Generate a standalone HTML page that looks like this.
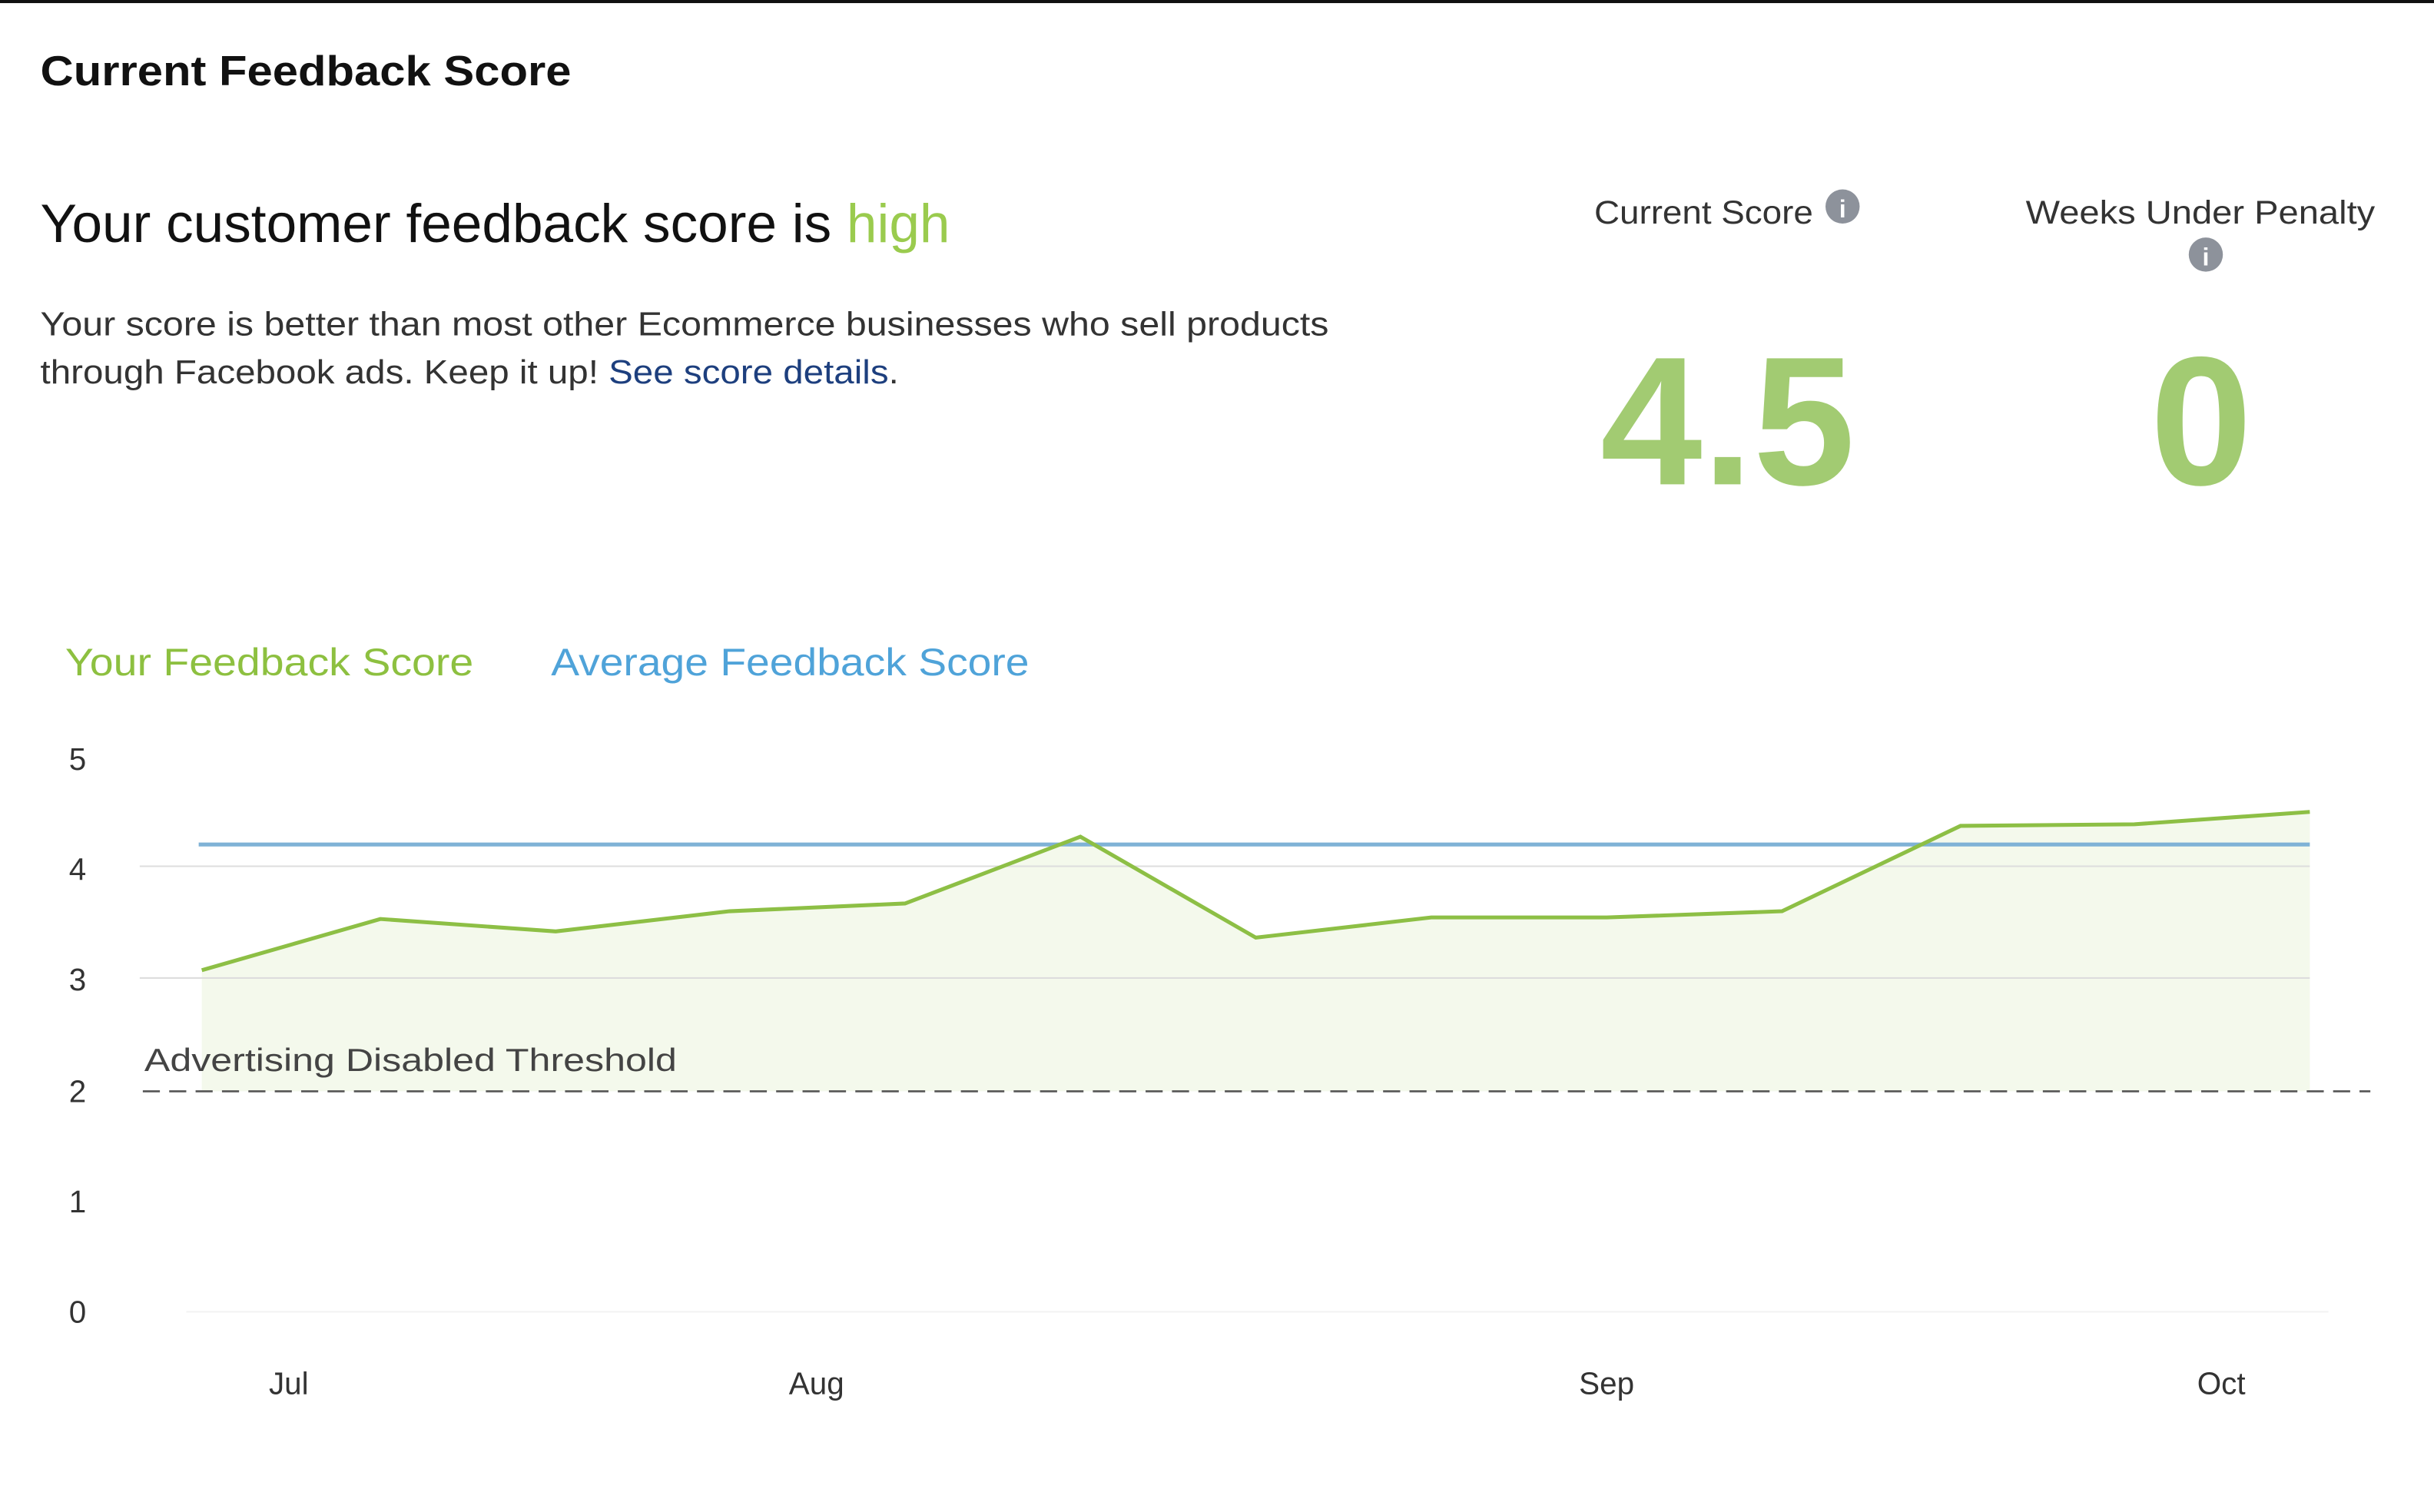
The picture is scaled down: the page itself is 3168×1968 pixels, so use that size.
<!DOCTYPE html>
<html><head><meta charset="utf-8"><style>
html,body{margin:0;padding:0;background:#fff;width:3168px;height:1968px;overflow:hidden}
svg{display:block}
text{font-family:"Liberation Sans",sans-serif}
</style></head><body>
<svg width="3168" height="1968" viewBox="0 0 1568 974" preserveAspectRatio="none">
<rect x="0" y="0" width="1568" height="2" fill="#111"/>
<text x="26" y="55" font-size="27" font-weight="bold" fill="#111" textLength="342" lengthAdjust="spacingAndGlyphs">Current Feedback Score</text>
<text x="26" y="156" font-size="35" fill="#111" textLength="586" lengthAdjust="spacingAndGlyphs">Your customer feedback score is <tspan fill="#9acb4e">high</tspan></text>
<text x="26" y="216" font-size="21.5" fill="#333" textLength="830" lengthAdjust="spacingAndGlyphs">Your score is better than most other Ecommerce businesses who sell products</text>
<text x="26" y="247" font-size="21.5" fill="#333" textLength="553" lengthAdjust="spacingAndGlyphs">through Facebook ads. Keep it up! <tspan fill="#1d3f7e">See score details</tspan>.</text>
<text x="1027" y="144" font-size="21" fill="#333" textLength="141" lengthAdjust="spacingAndGlyphs">Current Score</text>
<circle cx="1187" cy="133" r="11" fill="#8d929b"/><text x="1187" y="140" font-size="16" font-weight="bold" fill="#fff" text-anchor="middle">i</text>
<text x="1305" y="144" font-size="21" fill="#333" textLength="225" lengthAdjust="spacingAndGlyphs">Weeks Under Penalty</text>
<circle cx="1421" cy="164" r="11" fill="#8d929b"/><text x="1421" y="171" font-size="16" font-weight="bold" fill="#fff" text-anchor="middle">i</text>
<text x="1113" y="312" font-size="118" font-weight="bold" fill="#a2cb72" text-anchor="middle">4.5</text>
<text x="1418" y="312" font-size="118" font-weight="bold" fill="#a2cb72" text-anchor="middle">0</text>
<text x="42" y="435" font-size="25" fill="#8dc040" textLength="263" lengthAdjust="spacingAndGlyphs">Your Feedback Score</text>
<text x="355" y="435" font-size="25" fill="#4fa3d9" textLength="308" lengthAdjust="spacingAndGlyphs">Average Feedback Score</text>
<g font-size="20" fill="#333" text-anchor="middle">
<text x="50" y="496">5</text><text x="50" y="567">4</text><text x="50" y="638">3</text>
<text x="50" y="710">2</text><text x="50" y="781">1</text><text x="50" y="852">0</text>
<text x="186" y="898">Jul</text><text x="526" y="898">Aug</text><text x="1035" y="898">Sep</text><text x="1431" y="898">Oct</text>
</g>
<polygon points="130,625 245,592 358,600 470,587 583,582 696,539 809,604 922,591 1035,591 1148,587 1263,532 1375,531 1488,523 1488,703 130,703" fill="#f4f9ec"/>
<line x1="90" y1="558" x2="1488" y2="558" stroke="#ddd" stroke-width="1"/>
<line x1="90" y1="630" x2="1488" y2="630" stroke="#ddd" stroke-width="1"/>
<line x1="120" y1="845" x2="1500" y2="845" stroke="#f2f2f2" stroke-width="1"/>
<line x1="128" y1="544" x2="1488" y2="544" stroke="#7fb2d6" stroke-width="2.5"/>
<polyline points="130,625 245,592 358,600 470,587 583,582 696,539 809,604 922,591 1035,591 1148,587 1263,532 1375,531 1488,523" fill="none" stroke="#8dbf45" stroke-width="2.5"/>
<line x1="92" y1="703" x2="1527" y2="703" stroke="#555" stroke-width="1.3" stroke-dasharray="11,6"/>
<text x="93" y="690" font-size="20.5" fill="#444" textLength="343" lengthAdjust="spacingAndGlyphs">Advertising Disabled Threshold</text>
</svg>
</body></html>
